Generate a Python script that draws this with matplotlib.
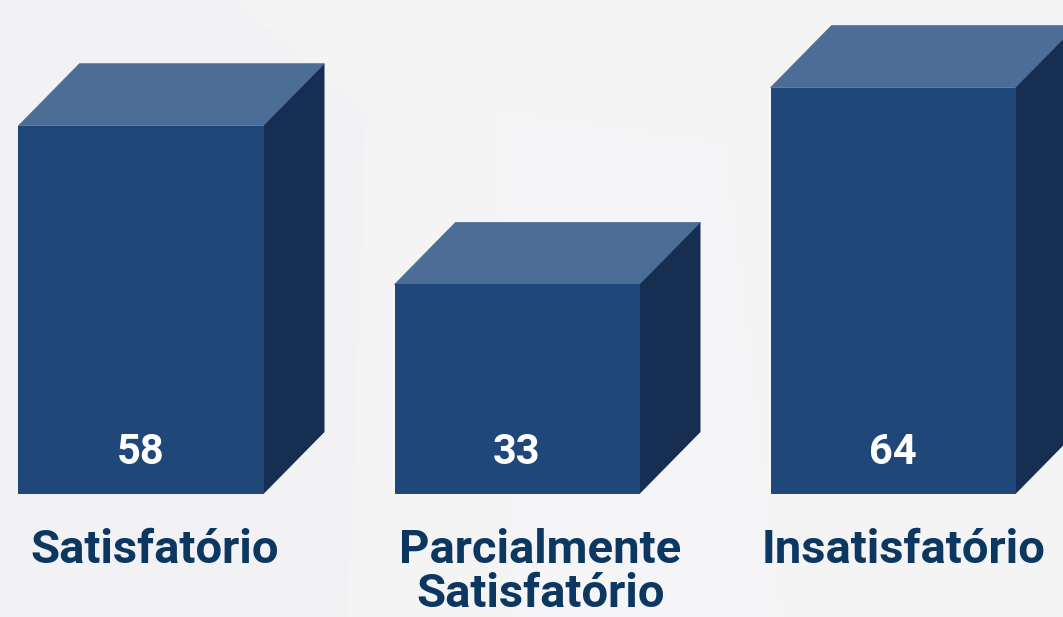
import matplotlib
matplotlib.use("Agg")
import matplotlib.pyplot as plt
from matplotlib.patches import Polygon

# ---- data ----
categories = ["Satisfatório", "Parcialmente\nSatisfatório", "Insatisfatório"]
values = [58, 33, 64]

# ---- style ----
FRONT = "#1f4779"
TOP = "#4c6d96"
SIDE = "#152e52"
LABEL = "#0b3761"
BG = "#f4f4f5"

W, H, DPI = 1063, 617, 100
fig = plt.figure(figsize=(W / DPI, H / DPI), dpi=DPI, facecolor=BG)
ax = fig.add_axes([0, 0, 1, 1])
ax.set_facecolor(BG)

px_x = 376.0          # pixels per category unit
px_y = 6.35           # pixels per value unit
x0_px = 141.0         # center of first bar front (px)
base_px = 123.0       # baseline from bottom (px)
ax.set_xlim(-x0_px / px_x, (W - x0_px) / px_x)
ax.set_ylim(-base_px / px_y, (H - base_px) / px_y)

bar_w = 245 / px_x
dx = 61 / px_x
dy = 62 / px_y

# faint background shapes
ax.add_patch(Polygon([(-0.375, 77.8), (0.25, 77.8), (0.6, 60), (0.55, -19.4), (-0.375, -19.4)],
                     closed=True, facecolor="#f2f2f4", edgecolor="none", zorder=0))
ax.add_patch(Polygon([(0.95, 60), (1.55, 55), (1.7, -19.4), (1.0, -19.4)],
                     closed=True, facecolor="#f5f5f8", edgecolor="none", zorder=0))

xs = list(range(len(values)))
bars = ax.bar(xs, values, width=bar_w, color=FRONT, zorder=3, linewidth=0)

for b, v in zip(bars, values):
    l = b.get_x()
    r = l + b.get_width()
    t = b.get_height()
    ax.add_patch(Polygon([(l, t), (l + dx, t + dy), (r + dx, t + dy), (r, t)],
                         closed=True, facecolor=TOP, edgecolor=TOP, linewidth=0.5, zorder=2))
    ax.add_patch(Polygon([(r, 0), (r, t), (r + dx, t + dy), (r + dx, dy)],
                         closed=True, facecolor=SIDE, edgecolor="none", zorder=2.5))
    ax.text(l + b.get_width() / 2, 6.6, f"{v}", color="white", fontsize=30,
            fontfamily="Roboto", fontweight="bold", ha="center", va="center", zorder=4)

label_dx = [0.037, 0.062, 0.028]
for x, c, o in zip(xs, categories, label_dx):
    ax.text(x + o, -5.4, c, color=LABEL, fontsize=34, fontfamily="Roboto",
            fontweight="bold", ha="center", va="top", linespacing=0.98, zorder=4)

ax.axis("off")
fig.savefig("out.png", dpi=DPI, facecolor=BG)
